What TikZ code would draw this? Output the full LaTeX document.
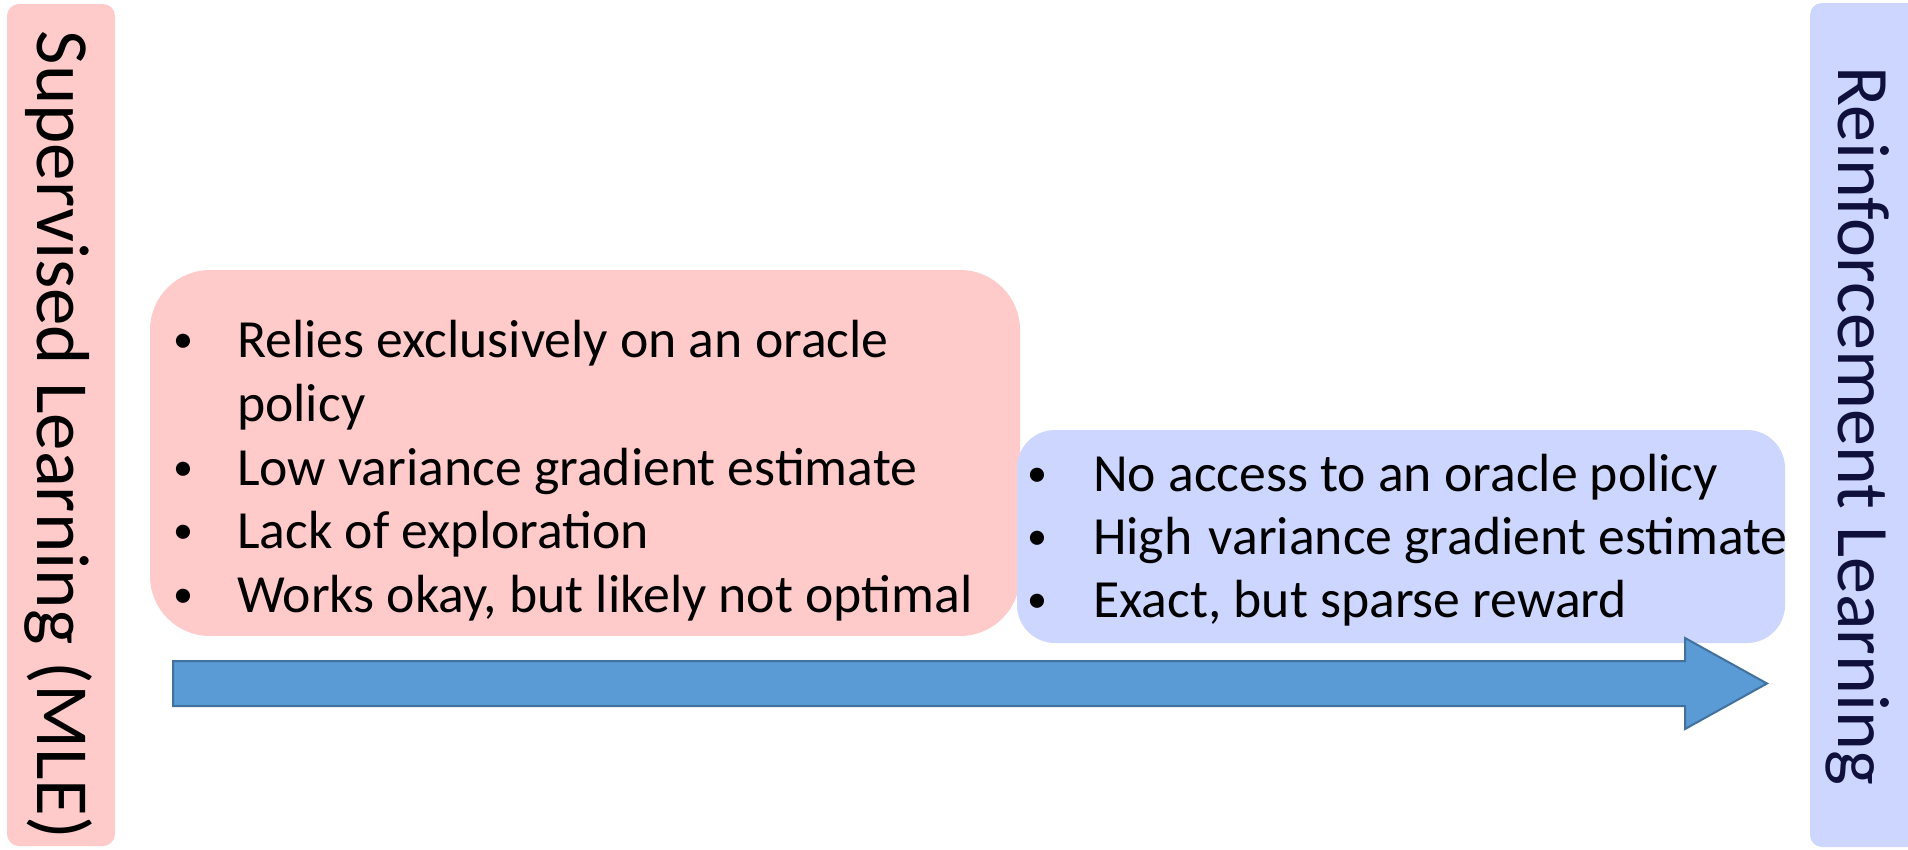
\documentclass[tikz,border=0pt]{standalone}
\usepackage{fontspec}
\setmainfont{Carlito}
\definecolor{pinkfill}{HTML}{FFCACA}
\definecolor{bluefill}{HTML}{CCD6FE}
\definecolor{arrowfill}{HTML}{5B9BD5}
\definecolor{arrowline}{HTML}{41719C}
\definecolor{navytext}{HTML}{10103C}
\tikzset{
  pinkbox/.style={fill=pinkfill, draw=none, rectangle, rounded corners=60pt, inner sep=0pt},
  bluebox/.style={fill=bluefill, draw=none, rectangle, rounded corners=38pt, inner sep=0pt},
  sidebar/.style={draw=none, rectangle, rounded corners=12pt, inner sep=0pt},
  itemtext/.style={anchor=base west, inner sep=0pt, font=\fontsize{53.7}{64}\selectfont},
  bullettext/.style={anchor=base, inner sep=0pt, yshift=5pt, font=\fontsize{40}{48}\selectfont},
  sidetext/.style={rotate=-90, inner sep=0pt, font=\fontsize{75}{90}\selectfont},
  blockarrow/.style={fill=arrowfill, draw=arrowline, line width=2pt, line join=miter}
}
\begin{document}
\begin{tikzpicture}[x=1pt,y=-1pt]
\useasboundingbox (0,0) rectangle (1908,849);
\clip (0,0) rectangle (1908,849);
% side bars
\node[sidebar, fill=pinkfill, minimum width=108pt, minimum height=842pt] (slbar) at (61,425) {};
\node[sidebar, fill=bluefill, minimum width=130pt, minimum height=844pt] (rlbar) at (1875,425) {};
\node[sidetext, text=black] (sltext) at (58,435) {Supervised Learning (MLE)};
\node[sidetext, text=navytext, font=\fontsize{74}{90}\selectfont] (rltext) at (1858,426) {Reinforcement Learning};
% pink box
\node[pinkbox, minimum width=870pt, minimum height=366pt] (pbox) at (585,453) {};
\node[bullettext] (pb1) at (183,357) {\textbullet};
\node[itemtext] (pt1) at (237,357) {Relies exclusively on an oracle};
\node[itemtext] (pt1b) at (237,421) {policy};
\node[bullettext] (pb2) at (183,485) {\textbullet};
\node[itemtext] (pt2) at (237,485) {Low variance gradient estimate};
\node[bullettext] (pb3) at (183,548) {\textbullet};
\node[itemtext] (pt3) at (237,548) {Lack of exploration};
\node[bullettext] (pb4) at (183,612) {\textbullet};
\node[itemtext] (pt4) at (237,612) {Works okay, but likely not optimal};
% blue box
\node[bluebox, minimum width=768pt, minimum height=213pt] (bbox) at (1401,536.5) {};
\node[bullettext] (bb1) at (1037,491) {\textbullet};
\node[itemtext] (bt1) at (1093,491) {No access to an oracle policy};
\node[bullettext] (bb2) at (1037,554) {\textbullet};
\node[itemtext] (bt2) at (1093,554) {High\hspace{0.08em} variance gradient estimate};
\node[bullettext] (bb3) at (1037,617) {\textbullet};
\node[itemtext] (bt3) at (1093,617) {Exact, but sparse reward};
% block arrow
\draw[blockarrow] (173,661) -- (1685,661) -- (1685,638) -- (1767,683.5) -- (1685,729) -- (1685,706) -- (173,706) -- cycle;
\end{tikzpicture}
\end{document}
